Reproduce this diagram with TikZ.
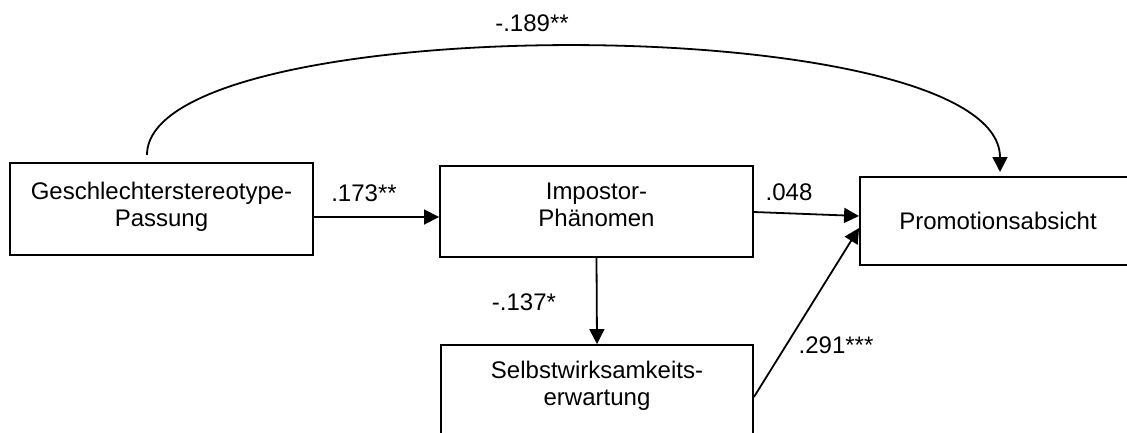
\documentclass[tikz,border=0pt]{standalone}
\usepackage{fontspec}
\setmainfont{Liberation Sans}
\usetikzlibrary{arrows.meta}
\begin{document}
\begin{tikzpicture}[x=1pt,y=-1pt,
 box/.style={draw,line width=1.9pt,rectangle,align=center,inner sep=0pt,font=\fontsize{24}{27}\selectfont},
 lab/.style={font=\fontsize{24}{27}\selectfont,inner sep=0pt},
 arr/.style={line width=1.8pt,-{Triangle[length=15pt,width=15pt]}}]
\clip (0,0) rectangle (1127,432);
\fill[white] (0,0) rectangle (1127,432);
\node[box,minimum width=303pt,minimum height=92pt] (b1) at (161.5,209) {Geschlechterstereotype-\\Passung\rule[-8.5pt]{0pt}{0pt}};
\node[box,minimum width=313pt,minimum height=91pt] (b2) at (596.5,211.5) {Impostor-\\Phänomen\rule[-13pt]{0pt}{0pt}};
\node[box,minimum width=312pt,minimum height=91pt] (b3) at (597,390.5) {Selbstwirksamkeits-\\erwartung\rule[-14.5pt]{0pt}{0pt}};
\node[box,minimum width=276pt,minimum height=88pt] (b4) at (998,221) {Promotionsabsicht};
\coordinate (cs) at (147,155);
\coordinate (ce) at (1000,172);
\draw[arr] (b1.east |- 0,217) -- (b2.west |- 0,217);
\draw[arr] (b2.east |- 0,212) -- (b4.west |- 0,216);
\draw[arr] (b2.south) -- (b3.north);
\draw[arr] (b3.east |- 0,397) -- (b4.west |- 0,228);
\draw[arr] (cs) .. controls (147,8) and (1000,8) .. (ce);
\node[lab] (l1) at (532,23) {-.189**};
\node[lab] (l2) at (364,193) {.173**};
\node[lab] (l3) at (789,192) {.048};
\node[lab] (l4) at (524,302) {-.137*};
\node[lab] (l5) at (836,345) {.291***};
\end{tikzpicture}
\end{document}
